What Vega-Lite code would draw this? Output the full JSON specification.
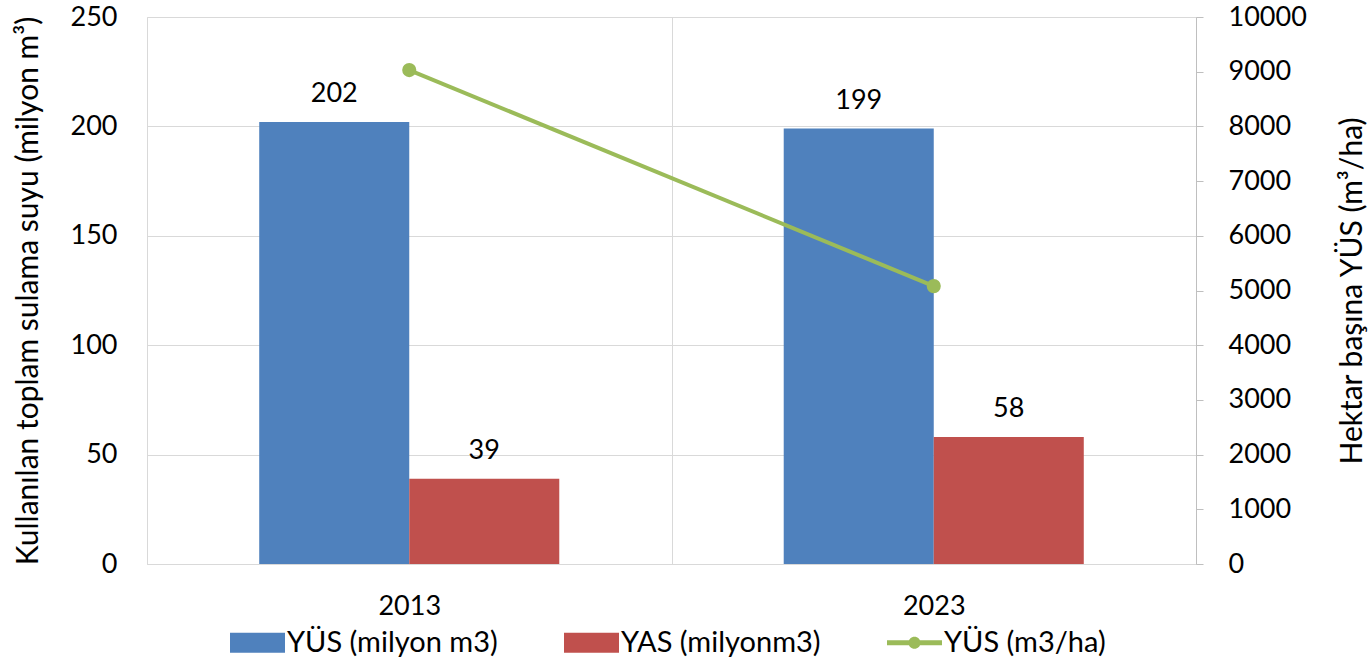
{
  "$schema": "https://vega.github.io/schema/vega-lite/v6.json",
  "autosize": "none",
  "width": 1049,
  "height": 547,
  "padding": {"left": 147, "top": 17, "right": 176, "bottom": 98},
  "background": "white",
  "config": {
    "font": "Lato",
    "view": {"stroke": null},
    "axis": {
      "labelFont": "Lato", "titleFont": "Lato",
      "labelFontSize": 27, "titleFontSize": 30,
      "labelColor": "#000000", "titleColor": "#000000",
      "titleFontWeight": "normal",
      "gridColor": "#D9D9D9", "domainColor": "#BFBFBF", "tickColor": "#BFBFBF"
    }
  },
  "datasets": {
    "bars": [
      {"year": "2013", "series": "YÜS (milyon m3)", "value": 202},
      {"year": "2013", "series": "YAS (milyonm3)", "value": 39},
      {"year": "2023", "series": "YÜS (milyon m3)", "value": 199},
      {"year": "2023", "series": "YAS (milyonm3)", "value": 58}
    ],
    "line": [
      {"year": "2013", "value": 9030},
      {"year": "2023", "value": 5080}
    ]
  },
  "encoding": {
    "x": {
      "field": "year", "type": "nominal",
      "scale": {"paddingInner": 0, "paddingOuter": 0},
      "axis": {"title": null, "labelAngle": 0, "ticks": false, "tickBand": "extent", "grid": true, "labelPadding": 29, "domainColor": "#D9D9D9"}
    }
  },
  "layer": [
    {
      "data": {"name": "bars"},
      "encoding": {
        "xOffset": {"field": "series", "type": "nominal", "sort": ["YÜS (milyon m3)", "YAS (milyonm3)"], "scale": {"domain": ["YÜS (milyon m3)", "YAS (milyonm3)"], "paddingInner": 0, "paddingOuter": 0.748}},
        "y": {
          "field": "value", "type": "quantitative",
          "scale": {"domain": [0, 250], "nice": false},
          "axis": {"orient": "left", "values": [0, 50, 100, 150, 200, 250], "title": "Kullanılan toplam sulama suyu (milyon m³)", "ticks": false, "grid": true, "labelPadding": 30, "titlePadding": 27, "domainColor": "#D9D9D9"}
        }
      },
      "layer": [
        {
          "mark": {"type": "bar"},
          "encoding": {
            "color": {
              "field": "series", "type": "nominal",
              "scale": {"domain": ["YÜS (milyon m3)", "YAS (milyonm3)", "YÜS (m3/ha)"], "range": ["#4F81BD", "#C0504D", "#9BBB59"]},
              "legend": {
                "orient": "none", "legendX": 83, "legendY": 598,
                "direction": "horizontal", "columns": 3, "title": null,
                "labelFont": "Lato", "labelFontSize": 29, "labelColor": "#000000", "labelLimit": 0,
                "symbolSize": 3025, "symbolStrokeWidth": 0, "labelOffset": 2,
                "columnPadding": 66, "padding": 0,
                "encode": {
                  "symbols": {
                    "update": {
                      "shape": {"signal": "datum.value === 'YÜS (m3/ha)' ? 'M-1,-0.09H1V0.09H-1Z M-0.22,0A0.22,0.22,0,1,1,0.22,0A0.22,0.22,0,1,1,-0.22,0Z' : 'M-1,-0.36H1V0.36H-1Z'"},
                      "fill": {"scale": "color", "field": "value"},
                      "opacity": {"value": 1},
                      "strokeWidth": {"value": 0}
                    }
                  }
                }
              }
            }
          }
        },
        {
          "mark": {"type": "text", "baseline": "bottom", "dy": -14, "fontSize": 27, "font": "Lato", "color": "#000000"},
          "encoding": {"text": {"field": "value", "type": "quantitative"}}
        }
      ]
    },
    {
      "data": {"name": "line"},
      "encoding": {
        "y": {
          "field": "value", "type": "quantitative",
          "scale": {"domain": [0, 10000], "nice": false},
          "axis": {"orient": "right", "format": "d", "values": [0, 1000, 2000, 3000, 4000, 5000, 6000, 7000, 8000, 9000, 10000], "title": "Hektar başına YÜS (m³/ha)", "titleAngle": 270, "grid": false, "ticks": true, "tickSize": 7, "labelPadding": 25, "titlePadding": 61}
        }
      },
      "layer": [
        {
          "mark": {"type": "line", "strokeWidth": 4},
          "encoding": {"color": {"datum": "YÜS (m3/ha)"}}
        },
        {
          "mark": {"type": "point", "filled": true, "size": 200, "opacity": 1, "shape": "circle"},
          "encoding": {"color": {"datum": "YÜS (m3/ha)"}}
        }
      ]
    }
  ],
  "resolve": {"scale": {"y": "independent"}}
}
